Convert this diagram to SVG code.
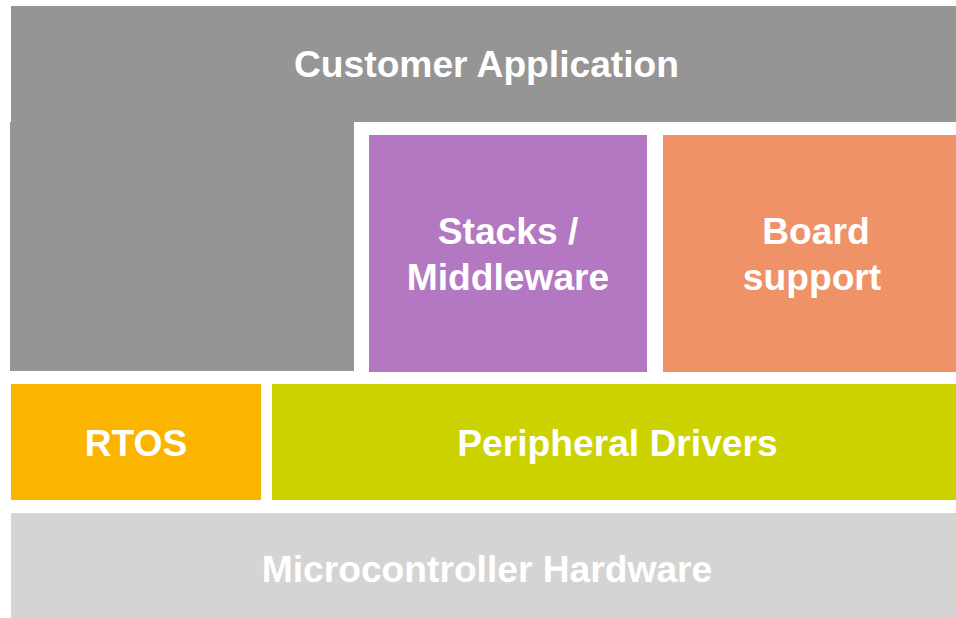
<svg xmlns="http://www.w3.org/2000/svg" width="956" height="618" viewBox="0 0 956 618">
<style>
.t{font-family:"Liberation Sans",Arial,sans-serif;font-weight:bold;font-size:37.2px;fill:#ffffff;text-anchor:middle}
</style>
<rect width="956" height="618" fill="#ffffff"/>
<g id="customer-application">
<path d="M11 6 H956 V122 H354 V371 H10 V122 H11 Z" fill="#959595"/>
<text class="t" x="486.5" y="77">Customer Application</text>
</g>
<g id="stacks-middleware">
<rect x="369" y="135" width="278" height="237" fill="#b378c1"/>
<text class="t" x="508" y="244">Stacks /</text>
<text class="t" x="508" y="290">Middleware</text>
</g>
<g id="board-support">
<rect x="663" y="135" width="293" height="237" fill="#f09267"/>
<text class="t" x="816" y="244">Board</text>
<text class="t" x="812" y="290">support</text>
</g>
<g id="rtos">
<rect x="11" y="384" width="250" height="116" fill="#fbb500"/>
<text class="t" x="136" y="456">RTOS</text>
</g>
<g id="peripheral-drivers">
<rect x="272" y="384" width="684" height="116" fill="#cbd200"/>
<text class="t" x="617.5" y="456">Peripheral Drivers</text>
</g>
<g id="microcontroller-hardware">
<rect x="11" y="513" width="945" height="105" fill="#d4d4d4"/>
<text class="t" x="487" y="582">Microcontroller Hardware</text>
</g>
<g id="connectors"></g>
</svg>
